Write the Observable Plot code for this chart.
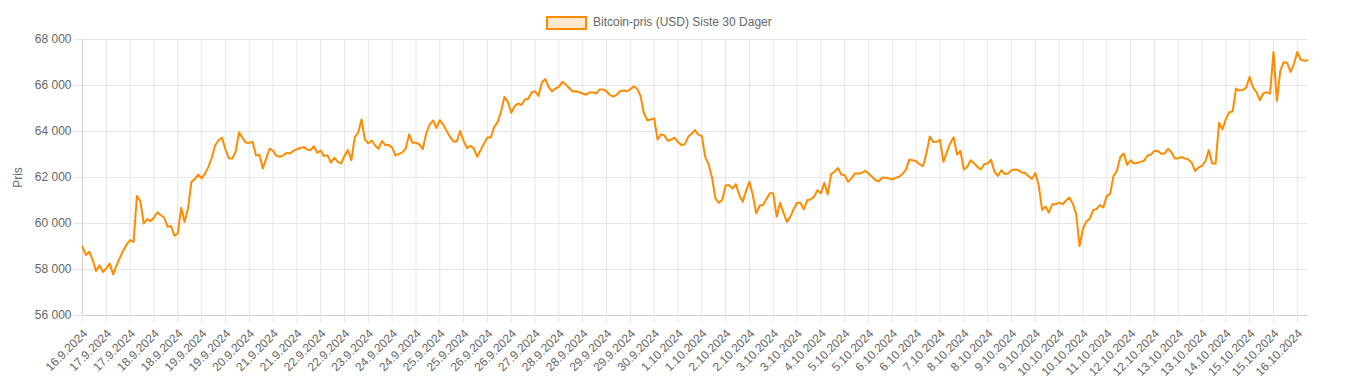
<!DOCTYPE html>
<html><head><meta charset="utf-8">
<script src="https://cdn.jsdelivr.net/npm/d3@7"></script>
<script src="https://cdn.jsdelivr.net/npm/@observablehq/plot@0.6"></script>
<style>
html,body{margin:0;padding:0;background:#fff;}
body{width:1351px;height:381px;overflow:hidden;font-family:"Liberation Sans",Arial,Helvetica,sans-serif;}
#legend{position:relative;height:30px;}
#legend .box{position:absolute;left:546px;top:16px;width:41px;height:14px;box-sizing:border-box;border:2px solid rgb(255,140,0);background:rgba(255,140,0,0.2);}
#legend .lbl{position:absolute;left:593px;top:15px;font-size:12px;line-height:14px;color:#666;white-space:nowrap;}
</style></head><body>
<div id="legend"><span class="box"></span><span class="lbl">Bitcoin-pris (USD) Siste 30 Dager</span></div>
<div id="chart"></div>
<script>
// Bitcoin price, one reading every 2 hours, starting 16.9.2024
const stepHours = 2;
const prices = [
58990,58630,58770,58410,57930,58180,57890,58050,58260,57790,
58180,58520,58830,59090,59280,59200,61200,60970,60000,60190,
60100,60260,60490,60360,60260,59860,59890,59470,59570,60680,
60070,60650,61810,61930,62130,61960,62170,62460,62870,63400,
63620,63730,63220,62840,62830,63120,63960,63740,63510,63510,
63550,62950,62990,62390,62830,63260,63160,62940,62900,62960,
63070,63040,63160,63230,63280,63320,63220,63190,63360,63070,
63170,62930,62970,62650,62860,62680,62610,62940,63190,62750,
63750,63950,64520,63650,63490,63610,63390,63250,63580,63410,
63410,63310,62950,63030,63090,63260,63880,63510,63510,63440,
63230,63910,64300,64480,64150,64490,64300,64020,63770,63570,
63570,64020,63580,63280,63380,63260,62900,63190,63480,63740,
63740,64200,64410,64860,65510,65290,64810,65100,65220,65150,
65390,65420,65700,65750,65550,66130,66280,65930,65750,65870,
65940,66160,66040,65900,65740,65750,65710,65650,65600,65700,
65700,65650,65830,65830,65750,65580,65520,65600,65750,65780,
65750,65840,65960,65860,65540,64780,64490,64520,64570,63650,
63880,63830,63600,63650,63730,63540,63410,63440,63770,63900,
64060,63860,63800,62900,62570,62000,61090,60900,61030,61650,
61670,61520,61710,61240,60940,61420,61810,61230,60440,60780,
60800,61070,61310,61310,60290,60900,60470,60070,60290,60620,
60900,60900,60610,61020,61040,61160,61450,61310,61770,61260,
62150,62250,62410,62130,62100,61810,61970,62170,62170,62200,
62290,62170,62030,61890,61840,61990,62000,61960,61910,61990,
62030,62150,62350,62780,62750,62710,62580,62490,63040,63780,
63540,63550,63640,62680,63100,63480,63750,63000,63150,62350,
62460,62750,62620,62460,62350,62580,62610,62770,62250,62070,
62320,62150,62170,62320,62350,62320,62220,62200,62060,61930,
62200,61670,60600,60740,60480,60840,60840,60910,60840,60990,
61130,60870,60440,59020,59760,60090,60200,60580,60630,60800,
60700,61190,61290,62070,62290,62900,63040,62550,62750,62610,
62640,62680,62730,62960,63000,63160,63150,63030,63040,63250,
63100,62830,62840,62890,62830,62780,62640,62280,62440,62510,
62710,63190,62610,62610,64380,64090,64540,64840,64870,65870,
65780,65800,65910,66380,65910,65710,65360,65650,65710,65650,
67460,65330,66640,67010,66990,66590,66930,67460,67130,67070,
67100
];
// Category labels shown on the x axis (one every 14 hourly points)
const tickEveryHours = 14;
const xTickLabels = [
"16.9.2024","17.9.2024","17.9.2024","18.9.2024","18.9.2024","19.9.2024","19.9.2024","20.9.2024",
"21.9.2024","21.9.2024","22.9.2024","22.9.2024","23.9.2024","24.9.2024","24.9.2024","25.9.2024",
"25.9.2024","26.9.2024","26.9.2024","27.9.2024","28.9.2024","28.9.2024","29.9.2024","29.9.2024",
"30.9.2024","1.10.2024","1.10.2024","2.10.2024","2.10.2024","3.10.2024","3.10.2024","4.10.2024",
"5.10.2024","5.10.2024","6.10.2024","6.10.2024","7.10.2024","8.10.2024","8.10.2024","9.10.2024",
"9.10.2024","10.10.2024","10.10.2024","11.10.2024","12.10.2024","12.10.2024","13.10.2024","13.10.2024",
"14.10.2024","15.10.2024","15.10.2024","16.10.2024"
];
const yTicks = [56000,58000,60000,62000,64000,66000,68000];
const seriesLabel = "Bitcoin-pris (USD) Siste 30 Dager";
const yTitle = "Pris";

const data = prices.map((p, i) => ({hour: i * stepHours, price: p}));
const lastHour = (prices.length - 1) * stepHours;
const tickHours = xTickLabels.map((_, i) => i * tickEveryHours);
const fmtY = d => d3.format(",")(d).replace(/,/g, " ");
const grid = "#e6e6e6";
const lineColor = "rgb(255,140,0)";

const chart = Plot.plot({
  width: 1351,
  height: 351,
  marginTop: 9,
  marginBottom: 66,
  marginLeft: 82,
  marginRight: 44,
  style: {fontFamily: '"Liberation Sans", Arial, Helvetica, sans-serif', fontSize: "12px", background: "#fff", color: "#666"},
  x: {domain: [0, lastHour]},
  y: {domain: [yTicks[0], yTicks[yTicks.length - 1]]},
  marks: [
    Plot.gridX(tickHours, {stroke: grid, strokeOpacity: 1}),
    Plot.gridY(yTicks, {stroke: grid, strokeOpacity: 1}),
    Plot.ruleX([0], {stroke: "#d0d0d0"}),
    Plot.ruleY([yTicks[0]], {stroke: "#d0d0d0"}),
    // tick marks below the x axis
    Plot.axisX(tickHours, {tickFormat: () => "", tickSize: 8, stroke: grid, label: null}),
    // rotated date labels
    Plot.axisX(tickHours, {
      tickFormat: d => xTickLabels[Math.round(d / tickEveryHours)],
      tickRotate: -45, tickSize: 0, tickPadding: 11, dx: 3, dy: 5,
      fill: "#666", fontSize: 12, label: null
    }),
    Plot.axisY(yTicks, {
      tickFormat: fmtY, tickSize: 8, tickPadding: 3,
      stroke: grid, fill: "#666", fontSize: 12,
      label: yTitle, labelAnchor: "center", labelArrow: "none", labelOffset: 69
    }),
    Plot.line(data, {x: "hour", y: "price", stroke: lineColor, strokeWidth: 2, curve: "linear"})
  ]
});
document.getElementById("chart").appendChild(chart);
</script>
</body></html>
